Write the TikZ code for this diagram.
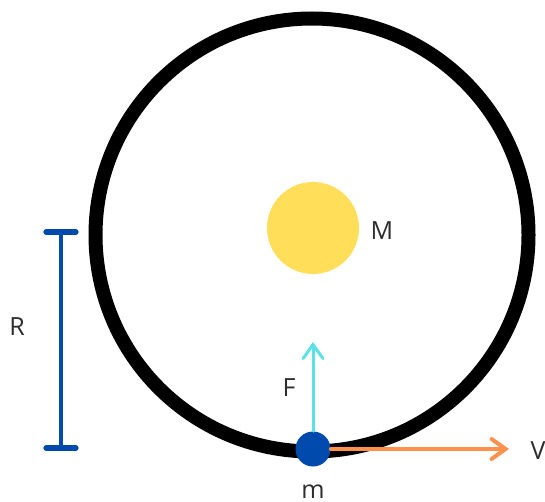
\documentclass[tikz,border=0pt]{standalone}
\usepackage{fontspec}
\setmainfont{Open Sans}
\usetikzlibrary{arrows.meta,positioning}
\definecolor{SunYellow}{RGB}{255, 222, 89}
\definecolor{MassBlue}{RGB}{0, 74, 173}
\definecolor{ForceCyan}{RGB}{92, 225, 230}
\definecolor{VelOrange}{RGB}{255, 145, 77}
\definecolor{LabelGray}{RGB}{45, 45, 45}

\begin{document}
\begin{tikzpicture}[x=0.5pt, y=-0.5pt,
  lbl/.style={text=LabelGray, font=\fontsize{12.5}{15}\selectfont, inner sep=0pt},
  vecline/.style={line cap=round, -{Straight Barb[length=7pt, width=10pt, line cap=round]}}]
  \useasboundingbox (0, 0) rectangle (545, 502);

  % Orbit
  \draw[line width=7pt] (312, 235) circle[radius=108.25pt];

  % Central body
  \node[circle, fill=SunYellow, minimum size=46pt, inner sep=0pt] (sun) at (313, 228) {};
  \node[lbl] (Mlabel) at (382, 231) {M};

  % Radius bar
  \coordinate (rtop) at (61, 232);
  \coordinate (rbot) at (61, 448);
  \draw[MassBlue, line width=2.2pt] (rtop) -- (rbot);
  \draw[MassBlue, line width=2.6pt, line cap=round] ([xshift=-7.5pt]rtop) -- ([xshift=7.5pt]rtop);
  \draw[MassBlue, line width=2.6pt, line cap=round] ([xshift=-7.5pt]rbot) -- ([xshift=7.5pt]rbot);
  \node[lbl] (Rlabel) at (17, 327) {R};

  % Orbiting body
  \node[circle, fill=MassBlue, minimum size=17.5pt, inner sep=0pt] (mass) at (313, 449) {};
  \node[lbl] (mlabel) at (313, 492) {m};

  % Force
  \coordinate (ftip) at (313, 342);
  \draw[ForceCyan, line width=1.5pt, vecline] (mass) -- (ftip);
  \node[lbl] (Flabel) at (289, 388) {F};

  % Velocity
  \coordinate (vtip) at (509, 449);
  \draw[VelOrange, line width=2pt, vecline] (mass) -- (vtip);
  \node[lbl] (Vlabel) at (538, 451) {V};
\end{tikzpicture}
\end{document}
